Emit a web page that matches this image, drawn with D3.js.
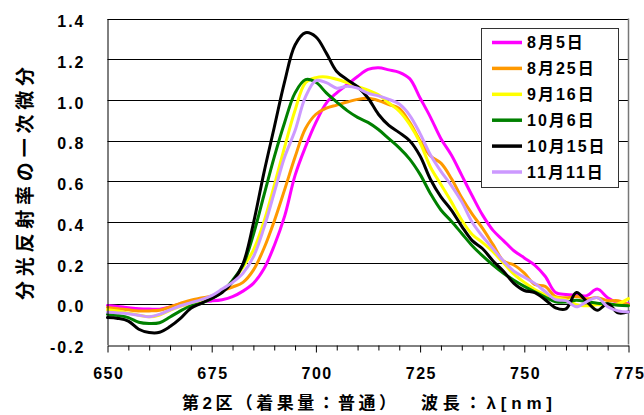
<!DOCTYPE html>
<html><head><meta charset="utf-8">
<script src="https://cdn.jsdelivr.net/npm/d3@7"></script>
<style>
body{margin:0;background:#fff;}
svg text{font-family:"Liberation Sans",Arial,"Noto Sans CJK JP",sans-serif;font-weight:bold;fill:#000;}
</style></head><body>
<svg id="c" width="644" height="415"></svg>
<script>
const wavelengths=[650,652.5,655,657.5,660,662.5,665,667.5,670,672.5,675,677.5,680,682.5,685,687.5,690,692.5,695,697.5,700,702.5,705,707.5,710,712.5,715,717.5,720,722.5,725,727.5,730,732.5,735,737.5,740,742.5,745,747.5,750,752.5,755,757.5,760,762.5,765,767.5,770,772.5,775];
const aug05=[-0.008,-0.013,-0.02,-0.024,-0.026,-0.027,-0.016,0.0,0.008,0.012,0.014,0.02,0.035,0.062,0.10,0.17,0.285,0.43,0.63,0.77,0.89,0.985,1.035,1.075,1.115,1.15,1.158,1.148,1.136,1.105,1.01,0.915,0.81,0.73,0.63,0.53,0.435,0.36,0.31,0.26,0.225,0.19,0.135,0.055,0.045,0.042,0.04,0.072,0.03,0.005,0.0];
const aug25=[-0.018,-0.024,-0.03,-0.035,-0.035,-0.032,-0.016,0.002,0.018,0.028,0.038,0.064,0.082,0.105,0.165,0.27,0.405,0.56,0.72,0.86,0.93,0.96,0.975,0.99,1.003,1.008,0.997,0.978,0.958,0.89,0.80,0.725,0.69,0.615,0.52,0.44,0.37,0.29,0.21,0.19,0.15,0.095,0.085,0.035,0.03,0.035,0.025,0.03,0.015,0.015,-0.005];
const sep16=[-0.03,-0.036,-0.046,-0.056,-0.064,-0.055,-0.032,-0.012,-0.002,0.012,0.03,0.06,0.11,0.18,0.263,0.40,0.58,0.77,0.95,1.085,1.11,1.113,1.102,1.085,1.066,1.048,1.025,0.985,0.945,0.88,0.79,0.67,0.585,0.50,0.41,0.34,0.30,0.255,0.20,0.145,0.105,0.07,0.045,0.03,0.02,-0.005,-0.01,-0.005,-0.005,0.0,0.025];
const oct06=[-0.052,-0.058,-0.068,-0.091,-0.097,-0.093,-0.065,-0.035,-0.01,0.003,0.025,0.06,0.115,0.19,0.34,0.53,0.72,0.89,1.035,1.1,1.087,1.035,0.99,0.948,0.915,0.89,0.855,0.81,0.765,0.71,0.635,0.54,0.46,0.405,0.345,0.285,0.235,0.19,0.15,0.115,0.085,0.058,0.033,0.01,0.008,0.017,0.01,0.003,0.0,-0.007,-0.01];
const oct15=[-0.068,-0.072,-0.085,-0.125,-0.141,-0.140,-0.112,-0.072,-0.022,0.002,0.027,0.055,0.107,0.195,0.394,0.64,0.865,1.09,1.27,1.33,1.31,1.23,1.14,1.1,1.065,1.01,0.93,0.875,0.84,0.80,0.725,0.61,0.525,0.46,0.38,0.31,0.27,0.21,0.16,0.10,0.065,0.055,0.02,-0.02,-0.025,0.055,0.01,-0.032,0.0,-0.045,-0.04];
const nov11=[-0.042,-0.045,-0.049,-0.056,-0.064,-0.052,-0.03,-0.01,0.005,0.02,0.04,0.072,0.105,0.15,0.23,0.37,0.545,0.72,0.85,1.015,1.095,1.085,1.058,1.067,1.058,1.033,1.02,1.003,0.98,0.925,0.835,0.73,0.65,0.58,0.50,0.40,0.33,0.27,0.21,0.16,0.13,0.10,0.06,0.02,0.015,-0.015,0.01,0.03,-0.015,-0.035,-0.04];
const seriesNames=["8月5日","8月25日","9月16日","10月6日","10月15日","11月11日"];
const seriesValues=[aug05,aug25,sep16,oct06,oct15,nov11];
const seriesColors=["#FF00FF","#FF9900","#FFFF00","#008000","#000000","#CC99FF"];
const xTicks=[650,675,700,725,750,775];
const xMinorTicks=[655,660,665,670,680,685,690,695,705,710,715,720,730,735,740,745,755,760,765,770];
const yTicks=[-0.2,0.0,0.2,0.4,0.6,0.8,1.0,1.2,1.4];
const xTitle1="第2区（着果量：普通）";
const xTitle2="波長：λ[nm]";
const yTitle="分光反射率の一次微分";

const svg=d3.select("#c");
const x=d3.scaleLinear().domain([650,775]).range([107.5,628.5]);
const y=d3.scaleLinear().domain([-0.2,1.4]).range([344.5,18.5]);

// gridlines
svg.append("g").selectAll("line").data(yTicks.filter(d=>d>-0.2)).join("line")
  .attr("x1",x(650)).attr("x2",x(775))
  .attr("y1",d=>Math.round(y(d))+0.5).attr("y2",d=>Math.round(y(d))+0.5)
  .attr("stroke","#000").attr("stroke-width",1);
// right border
svg.append("line").attr("x1",x(775)).attr("x2",x(775)).attr("y1",y(1.4)).attr("y2",y(-0.2))
  .attr("stroke","#777").attr("stroke-width",1.5);

// series
const line=d3.line().x((d,i)=>x(wavelengths[i])).y(d=>y(d)).curve(d3.curveCatmullRom.alpha(0.5));
svg.append("g").selectAll("path").data(seriesValues).join("path")
  .attr("d",d=>line(d)).attr("fill","none")
  .attr("stroke",(d,i)=>seriesColors[i]).attr("stroke-width",3)
  .attr("stroke-linejoin","round").attr("stroke-linecap","round");

// x axis
const gx=svg.append("g").attr("transform",`translate(0,${Math.round(y(-0.2))+0.5})`)
  .call(d3.axisBottom(x).tickValues(xTicks).tickSize(7).tickSizeOuter(0).tickFormat(d=>d));
gx.select(".domain").attr("stroke","#000");
gx.selectAll("text").attr("y",33.5).attr("dy",null).attr("dx",0.75)
  .style("font-size","16px").style("letter-spacing","1.5px");
const gxm=svg.append("g").attr("transform",`translate(0,${Math.round(y(-0.2))+0.5})`)
  .call(d3.axisBottom(x).tickValues(xMinorTicks).tickSize(5).tickFormat(""));
gxm.select(".domain").remove();

// y axis
const gy=svg.append("g").attr("transform",`translate(${x(650)},0)`)
  .call(d3.axisLeft(y).tickValues(yTicks).tickSize(0).tickSizeOuter(0).tickPadding(22).tickFormat(d=>d.toFixed(1)));
gy.select(".domain").attr("stroke","#000");
gy.selectAll("text").attr("y",3).style("font-size","16px").style("letter-spacing","2px");

// titles
svg.append("text").attr("x",182).attr("y",409).style("font-size","17px")
  .attr("textLength",214).attr("lengthAdjust","spacing").text(xTitle1);
svg.append("text").attr("x",421).attr("y",409).style("font-size","17px")
  .attr("textLength",131).attr("lengthAdjust","spacing").text(xTitle2);
svg.append("text").attr("transform","translate(32,183.5) rotate(-90)")
  .attr("text-anchor","middle").style("font-size","19px")
  .attr("textLength",233).attr("lengthAdjust","spacing").text(yTitle);

// legend
const lg=svg.append("g");
lg.append("rect").attr("x",481.5).attr("y",28.5).attr("width",137).attr("height",159)
  .attr("fill","#fff").attr("stroke","#333").attr("stroke-width",1);
const ly=d3.scalePoint().domain(seriesNames).range([42.5,172]);
seriesNames.forEach((n,i)=>{
  lg.append("line").attr("x1",492).attr("x2",522).attr("y1",ly(n)).attr("y2",ly(n))
    .attr("stroke",seriesColors[i]).attr("stroke-width",3.5);
  lg.append("text").attr("x",527).attr("y",ly(n)).attr("dy","0.36em")
    .style("font-size","16px").style("letter-spacing","2px").text(n);
});
</script></body></html>
